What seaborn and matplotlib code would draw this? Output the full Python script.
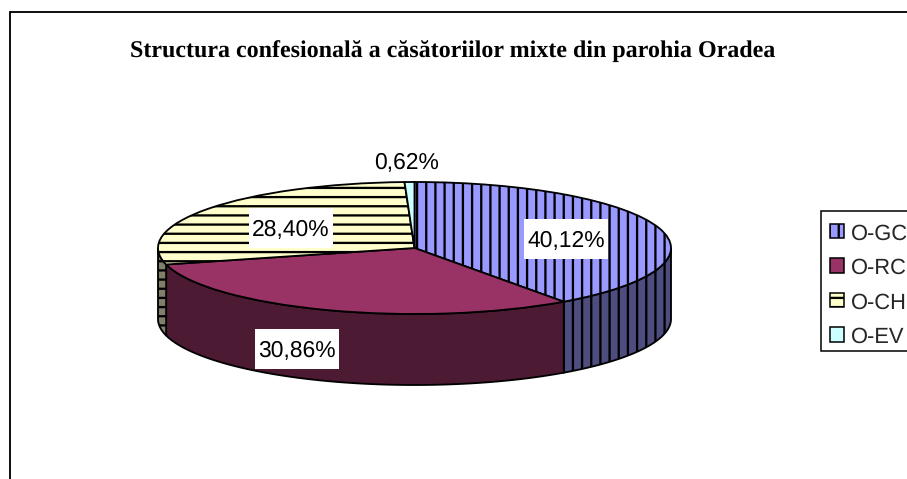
import numpy as np
import matplotlib
matplotlib.use('Agg')
import matplotlib.pyplot as plt
from matplotlib.patches import Rectangle, Patch
import seaborn as sns

W, H, DPI = 907, 480, 110

categories = ['O-GC', 'O-RC', 'O-CH', 'O-EV']
values = [40.12, 30.86, 28.40, 0.62]
top_colors = ['#9999FF', '#993366', '#FFFFCC', '#CCFFFF']
side_colors = ['#4D4D80', '#4D1A33', '#80806A', '#668080']
hatches = ['||', None, '--', None]

title = 'Structura confesională a căsătoriilor mixte din parohia Oradea'
label_pos = [(566, 240), (297, 350), (291, 229), (407, 162)]  # pixels
label_box = [True, True, True, False]

sns.set_theme(style='white')
plt.rcParams['font.family'] = ['Liberation Sans', 'DejaVu Sans']
plt.rcParams['hatch.linewidth'] = 1.5
plt.rcParams['text.hinting'] = 'none'

fig = plt.figure(figsize=(W / DPI, H / DPI), dpi=DPI, facecolor='white')

# pie ellipse in pixels
cx, cy, rx, ry, wall = 414.5, 249, 256.5, 66, 71
ax = fig.add_axes([(cx - rx) / W, 1 - (cy + ry + wall) / H, 2 * rx / W, (2 * ry + wall) / H])

wedges, _ = ax.pie(values, colors=top_colors, startangle=90, counterclock=False, radius=1,
                   wedgeprops={'edgecolor': 'black', 'linewidth': 1.2, 'zorder': 3})
for w, h in zip(wedges, hatches):
    w.set_hatch(h)
    w.set_clip_on(False)
ax.set_aspect('auto')
depth = wall / ry
ax.set_xlim(-1, 1)
ax.set_ylim(-1 - depth, 1)
ax.axis('off')

# side wall of the disc, only the front half shows
edges = np.cumsum([0] + values) / sum(values) * 360
for i in range(len(values)):
    t0, t1 = max(edges[i], 90), min(edges[i + 1], 270)
    if t1 <= t0:
        continue
    t = np.radians(np.linspace(t0, t1, 120))
    x, y = np.sin(t), np.cos(t)
    ax.fill(np.r_[x, x[::-1]], np.r_[y, y[::-1] - depth], facecolor=side_colors[i],
            edgecolor='black', linewidth=1.2, hatch=hatches[i], zorder=1, clip_on=False)

for v, (px, py), box in zip(values, label_pos, label_box):
    s = '{:.2f}%'.format(v).replace('.', ',')
    if box:
        fig.add_artist(Rectangle(((px - 42) / W, 1 - (py + 20) / H), 84 / W, 40 / H,
                                 transform=fig.transFigure, facecolor='white', edgecolor='none',
                                 zorder=9))
    fig.text(px / W, 1 - (py + 1) / H, s, fontsize=15, color='black', ha='center', va='center',
             zorder=10)

fig.text(452.5 / W, 1 - 52 / H, title, fontsize=15.7, fontweight='bold', family='Liberation Serif',
         color='black', ha='center', va='center')

# outer chart border runs past the picture on the right and bottom
fig.add_artist(Rectangle((9.5 / W, -0.1), 1.1, 1.1 - 12.5 / H, transform=fig.transFigure,
                         facecolor='none', edgecolor='black', linewidth=1.2))

# legend box drawn apart so its height can differ from the row spacing
fig.add_artist(Rectangle((821 / W, 1 - 352 / H), 0.2, 140 / H, transform=fig.transFigure,
                         facecolor='white', edgecolor='black', linewidth=1.0))
handles = [Patch(facecolor=c, edgecolor='black', hatch=h, linewidth=1.0)
           for c, h in zip(top_colors, hatches)]
leg = fig.legend(handles, categories, loc='upper left', bbox_to_anchor=(820 / W, 1 - 214 / H),
                 frameon=False, fontsize=14.3, handlelength=0.64, handleheight=0.64,
                 handletextpad=0.32, labelspacing=0.64, borderpad=0.44, borderaxespad=0)

fig.savefig('out.png', dpi=DPI)
